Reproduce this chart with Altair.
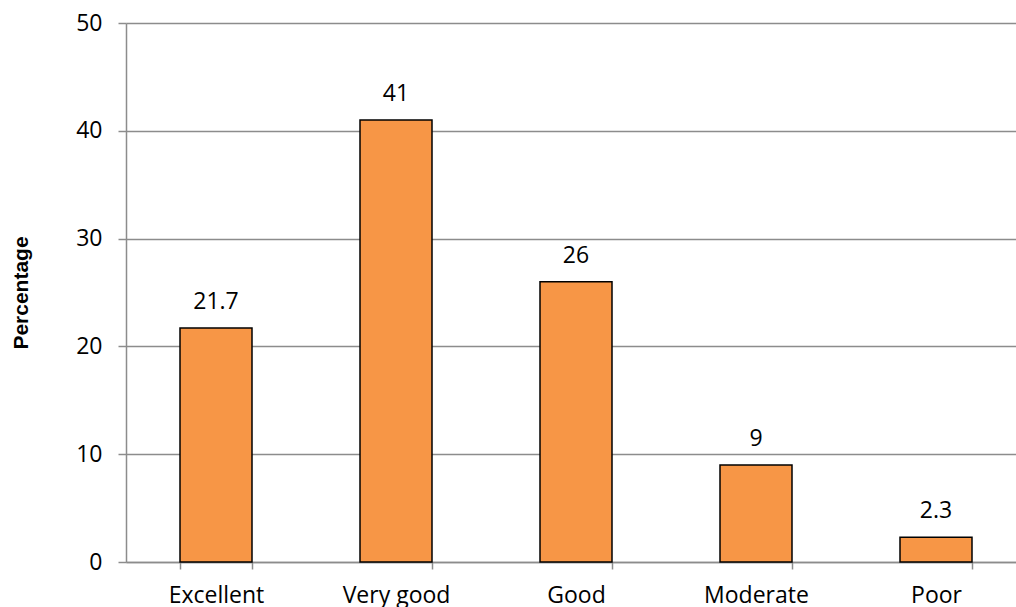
import altair as alt
import pandas as pd

categories = ["Excellent", "Very good", "Good", "Moderate", "Poor"]
values = [21.7, 41, 26, 9, 2.3]
labels = ["21.7", "41", "26", "9", "2.3"]

df = pd.DataFrame({"cat": categories, "val": values, "lab": labels})

x = alt.X("cat:N", sort=categories, title=None,
          scale=alt.Scale(paddingInner=0.6, paddingOuter=0.3, range=[0, 900]),
          axis=alt.Axis(labelAngle=0, tickBand="extent", tickSize=7, tickColor="#8c8c8c",
                        tickWidth=1.5, domainColor="#8c8c8c", domainWidth=1.5,
                        labelFont="Open Sans", labelFontSize=23, labelColor="black",
                        labelPadding=15))
y = alt.Y("val:Q", title="Percentage",
          scale=alt.Scale(domain=[0, 50], nice=False),
          axis=alt.Axis(values=[0, 10, 20, 30, 40, 50], tickSize=8, tickColor="#8c8c8c",
                        tickWidth=1.5, domainColor="#8c8c8c", domainWidth=1.5,
                        gridColor="#8c8c8c", gridWidth=1.5,
                        labelFont="Open Sans", labelFontSize=23, labelColor="black",
                        labelPadding=16,
                        titleFont="Liberation Sans", titleFontSize=21, titleFontWeight="bold",
                        titleColor="black", titlePadding=44))

bars = alt.Chart(df).mark_bar(color="#F79646", stroke="black", strokeWidth=1.5).encode(x=x, y=y)
text = alt.Chart(df).mark_text(baseline="bottom", dy=-14, font="Open Sans", fontSize=23,
                               color="black").encode(
    x=alt.X("cat:N", sort=categories), y="val:Q", text="lab:N")

chart = (bars + text).properties(
    width=890, height=539,
    autosize=alt.AutoSizeParams(type="none"),
    padding={"left": 126, "top": 23, "right": 0, "bottom": 45},
).configure_view(stroke=None).configure_axisX(grid=False)

chart.save("out.html", embed_options={"renderer": "svg", "actions": False})
